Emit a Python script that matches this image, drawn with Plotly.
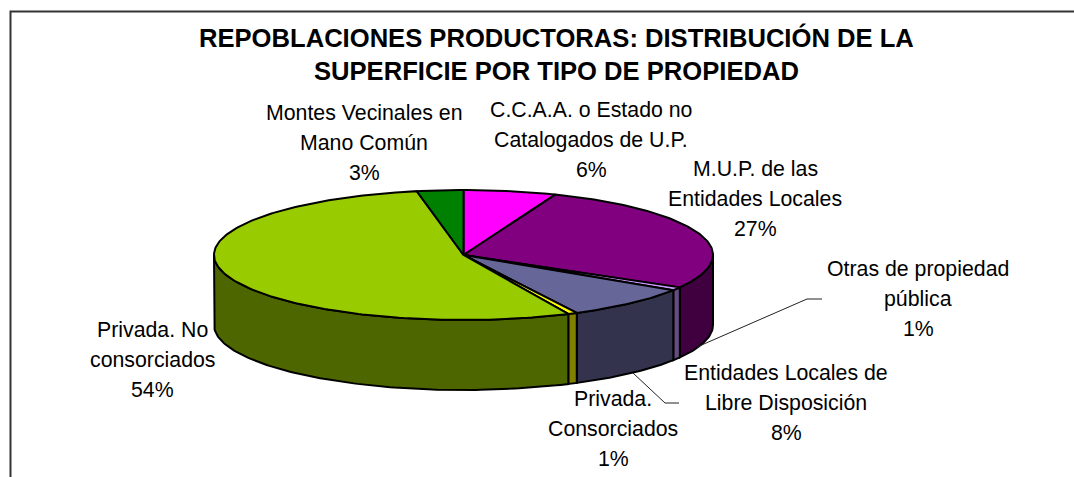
import math
import plotly.graph_objects as go

# ---- data (percent of area, clockwise from the top) ----
names = ["C.C.A.A. o Estado no Catalogados de U.P.", "M.U.P. de las Entidades Locales",
         "Otras de propiedad pública", "Entidades Locales de Libre Disposición",
         "Privada. Consorciados", "Privada. No consorciados", "Montes Vecinales en Mano Común"]
values = [6.0, 27.3, 0.8, 8.4, 0.6, 53.9, 3.0]
top_colors = ["#FF00FF", "#800080", "#CC99FF", "#666699", "#FFFF00", "#99CC00", "#008000"]
side_colors = ["#800080", "#400040", "#664C80", "#33334D", "#808000", "#4D6600", "#004000"]
label_lines = [
    ["C.C.A.A. o Estado no", "Catalogados de U.P.", "6%"],
    ["M.U.P. de las", "Entidades Locales", "27%"],
    ["Otras de propiedad", "pública", "1%"],
    ["Entidades Locales de", "Libre Disposición", "8%"],
    ["Privada.", "Consorciados", "1%"],
    ["Privada. No", "consorciados", "54%"],
    ["Montes Vecinales en", "Mano Común", "3%"],
]
label_centers = [(591, 140), (755, 199), (918, 299), (786, 403), (613, 429), (152, 360), (364, 143)]
title_lines = ["REPOBLACIONES PRODUCTORAS: DISTRIBUCIÓN DE LA", "SUPERFICIE POR TIPO DE PROPIEDAD"]

# ---- layout of the drawing, in page pixels ----
W, H = 1074, 477
CX, CY, RX, RY, DEPTH = 463.5, 255, 249.5, 65, 70
FONT = "Liberation Sans"
LABEL_SIZE = 21.3
LINE_GAP = 30


def pt(t, dy=0):
    r = math.radians(t)
    return CX + RX * math.sin(r), CY - RY * math.cos(r) + dy


def arc(a, b, dy=0):
    n = max(2, int(abs(b - a)) + 2)
    return [pt(a + (b - a) * i / (n - 1), dy) for i in range(n)]


fig = go.Figure()


def poly(points, fill, width=2):
    fig.add_trace(go.Scatter(x=[p[0] for p in points], y=[p[1] for p in points], mode="lines",
                             fill="toself", fillcolor=fill, line=dict(color="black", width=width),
                             hoverinfo="skip", showlegend=False))


total = sum(values)
bounds = [0]
for v in values:
    bounds.append(bounds[-1] + v / total * 360)

# side walls: only the front half of the disc (90..270 degrees from the top)
for i in range(len(values)):
    a, b = max(bounds[i], 90), min(bounds[i + 1], 270)
    if a < b:
        poly(arc(a, b) + arc(b, a, DEPTH) + [pt(a)], side_colors[i])

# top faces
for i in range(len(values)):
    poly([(CX, CY)] + arc(bounds[i], bounds[i + 1]) + [(CX, CY)], top_colors[i])

# leader lines
for xs, ys in [([697, 807, 822], [347, 299, 299]), ([633, 665, 679], [373, 403, 403])]:
    fig.add_trace(go.Scatter(x=xs, y=ys, mode="lines", line=dict(color="#222222", width=1),
                             hoverinfo="skip", showlegend=False))

# frame: left and top edges only
fig.add_trace(go.Scatter(x=[10.5, 10.5, 1074], y=[477, 11.5, 11.5], mode="lines",
                         line=dict(color="#333333", width=2), hoverinfo="skip", showlegend=False))

ann = []
for (cx, cy), lines in zip(label_centers, label_lines):
    for j, line in enumerate(lines):
        ann.append(dict(x=cx, y=cy + (j - 1) * LINE_GAP, text=line, showarrow=False,
                        xanchor="center", yanchor="middle",
                        font=dict(family=FONT, size=LABEL_SIZE, color="black")))
for j, line in enumerate(title_lines):
    ann.append(dict(x=556, y=37 + j * 34, text="<b>" + line + "</b>", showarrow=False,
                    xanchor="center", yanchor="middle",
                    font=dict(family=FONT, size=25.6, color="black")))

fig.update_layout(
    width=W, height=H, margin=dict(l=0, r=0, t=0, b=0), autosize=False,
    paper_bgcolor="white", plot_bgcolor="white", showlegend=False, annotations=ann,
    xaxis=dict(range=[0, W], visible=False, fixedrange=True),
    yaxis=dict(range=[H, 0], visible=False, fixedrange=True),
)
fig.write_html("out.html", config={"displayModeBar": False},
               post_script="document.body.style.margin='0';document.documentElement.style.overflow='hidden';")
